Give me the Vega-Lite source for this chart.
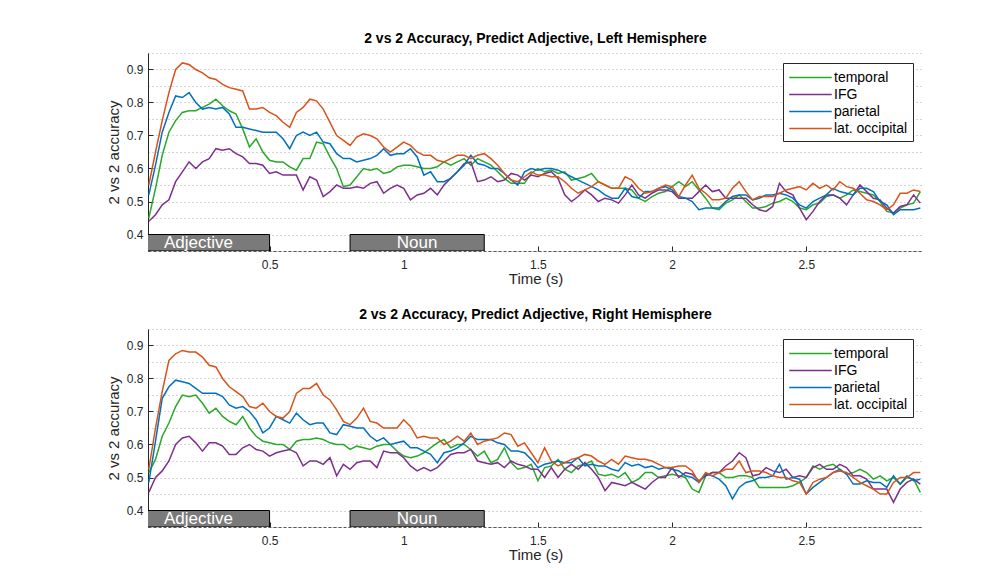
{
"$schema": "https://vega.github.io/schema/vega-lite/v6.json",
"padding": {"left": 106, "top": 32, "right": 5, "bottom": 5},
"spacing": 22,
"config": {
  "font": "Liberation Sans",
  "view": {"stroke": null},
  "title": {"fontSize": 14, "fontWeight": "bold", "color": "#000000", "offset": 7, "anchor": "middle", "font": "Liberation Sans"},
  "axis": {"labelFont": "Liberation Sans", "titleFont": "Liberation Sans", "labelColor": "#262626", "titleColor": "#262626", "titleFontWeight": "normal", "titleFontSize": 15, "labelFontSize": 12, "domainColor": "#262626", "tickColor": "#262626"},
  "legend": {"labelFont": "Liberation Sans", "labelFontSize": 14, "labelColor": "#000000"}
},
"datasets": {
"stim": [
  {"w": "Adjective", "start": 0, "end": 0.5, "mid": 0.235},
  {"w": "Noun", "start": 0.8, "end": 1.3, "mid": 1.05}
],
"L": [
{"t":0.05,"temporal":0.45,"IFG":0.44,"parietal":0.52,"occipital":0.55},
{"t":0.075,"temporal":0.54,"IFG":0.46,"parietal":0.61,"occipital":0.65},
{"t":0.1,"temporal":0.64,"IFG":0.49,"parietal":0.71,"occipital":0.745},
{"t":0.125,"temporal":0.71,"IFG":0.505,"parietal":0.77,"occipital":0.83},
{"t":0.15,"temporal":0.745,"IFG":0.56,"parietal":0.82,"occipital":0.90},
{"t":0.175,"temporal":0.77,"IFG":0.59,"parietal":0.815,"occipital":0.92},
{"t":0.2,"temporal":0.775,"IFG":0.62,"parietal":0.83,"occipital":0.915},
{"t":0.225,"temporal":0.775,"IFG":0.60,"parietal":0.80,"occipital":0.90},
{"t":0.25,"temporal":0.785,"IFG":0.62,"parietal":0.78,"occipital":0.89},
{"t":0.275,"temporal":0.795,"IFG":0.63,"parietal":0.785,"occipital":0.875},
{"t":0.3,"temporal":0.81,"IFG":0.66,"parietal":0.78,"occipital":0.87},
{"t":0.325,"temporal":0.79,"IFG":0.655,"parietal":0.785,"occipital":0.855},
{"t":0.35,"temporal":0.775,"IFG":0.66,"parietal":0.765,"occipital":0.845},
{"t":0.375,"temporal":0.765,"IFG":0.645,"parietal":0.725,"occipital":0.84},
{"t":0.4,"temporal":0.72,"IFG":0.635,"parietal":0.725,"occipital":0.835},
{"t":0.425,"temporal":0.665,"IFG":0.615,"parietal":0.72,"occipital":0.78},
{"t":0.45,"temporal":0.69,"IFG":0.615,"parietal":0.715,"occipital":0.78},
{"t":0.475,"temporal":0.65,"IFG":0.61,"parietal":0.71,"occipital":0.785},
{"t":0.5,"temporal":0.625,"IFG":0.585,"parietal":0.71,"occipital":0.77},
{"t":0.525,"temporal":0.62,"IFG":0.59,"parietal":0.71,"occipital":0.76},
{"t":0.55,"temporal":0.62,"IFG":0.58,"parietal":0.69,"occipital":0.74},
{"t":0.575,"temporal":0.605,"IFG":0.58,"parietal":0.66,"occipital":0.725},
{"t":0.6,"temporal":0.595,"IFG":0.58,"parietal":0.70,"occipital":0.77},
{"t":0.625,"temporal":0.63,"IFG":0.535,"parietal":0.71,"occipital":0.785},
{"t":0.65,"temporal":0.63,"IFG":0.575,"parietal":0.70,"occipital":0.81},
{"t":0.675,"temporal":0.68,"IFG":0.565,"parietal":0.71,"occipital":0.805},
{"t":0.7,"temporal":0.675,"IFG":0.515,"parietal":0.68,"occipital":0.78},
{"t":0.725,"temporal":0.635,"IFG":0.53,"parietal":0.675,"occipital":0.74},
{"t":0.75,"temporal":0.60,"IFG":0.55,"parietal":0.645,"occipital":0.70},
{"t":0.775,"temporal":0.545,"IFG":0.54,"parietal":0.63,"occipital":0.685},
{"t":0.8,"temporal":0.55,"IFG":0.54,"parietal":0.63,"occipital":0.67},
{"t":0.825,"temporal":0.575,"IFG":0.545,"parietal":0.62,"occipital":0.695},
{"t":0.85,"temporal":0.60,"IFG":0.54,"parietal":0.625,"occipital":0.705},
{"t":0.875,"temporal":0.595,"IFG":0.555,"parietal":0.63,"occipital":0.70},
{"t":0.9,"temporal":0.60,"IFG":0.56,"parietal":0.64,"occipital":0.69},
{"t":0.925,"temporal":0.585,"IFG":0.525,"parietal":0.66,"occipital":0.665},
{"t":0.95,"temporal":0.59,"IFG":0.54,"parietal":0.64,"occipital":0.65},
{"t":0.975,"temporal":0.605,"IFG":0.55,"parietal":0.645,"occipital":0.665},
{"t":1.0,"temporal":0.61,"IFG":0.54,"parietal":0.645,"occipital":0.68},
{"t":1.025,"temporal":0.61,"IFG":0.505,"parietal":0.66,"occipital":0.67},
{"t":1.05,"temporal":0.605,"IFG":0.52,"parietal":0.635,"occipital":0.65},
{"t":1.075,"temporal":0.60,"IFG":0.525,"parietal":0.58,"occipital":0.64},
{"t":1.1,"temporal":0.60,"IFG":0.54,"parietal":0.59,"occipital":0.64},
{"t":1.125,"temporal":0.605,"IFG":0.52,"parietal":0.56,"occipital":0.625},
{"t":1.15,"temporal":0.62,"IFG":0.55,"parietal":0.56,"occipital":0.62},
{"t":1.175,"temporal":0.61,"IFG":0.57,"parietal":0.57,"occipital":0.63},
{"t":1.2,"temporal":0.62,"IFG":0.59,"parietal":0.59,"occipital":0.64},
{"t":1.225,"temporal":0.63,"IFG":0.615,"parietal":0.61,"occipital":0.64},
{"t":1.25,"temporal":0.61,"IFG":0.62,"parietal":0.64,"occipital":0.63},
{"t":1.275,"temporal":0.63,"IFG":0.56,"parietal":0.615,"occipital":0.64},
{"t":1.3,"temporal":0.62,"IFG":0.565,"parietal":0.61,"occipital":0.645},
{"t":1.325,"temporal":0.61,"IFG":0.575,"parietal":0.60,"occipital":0.63},
{"t":1.35,"temporal":0.59,"IFG":0.56,"parietal":0.60,"occipital":0.61},
{"t":1.375,"temporal":0.57,"IFG":0.565,"parietal":0.585,"occipital":0.585},
{"t":1.4,"temporal":0.555,"IFG":0.585,"parietal":0.565,"occipital":0.565},
{"t":1.425,"temporal":0.555,"IFG":0.58,"parietal":0.55,"occipital":0.56},
{"t":1.45,"temporal":0.555,"IFG":0.565,"parietal":0.59,"occipital":0.575},
{"t":1.475,"temporal":0.585,"IFG":0.58,"parietal":0.60,"occipital":0.59},
{"t":1.5,"temporal":0.60,"IFG":0.575,"parietal":0.595,"occipital":0.58},
{"t":1.525,"temporal":0.59,"IFG":0.585,"parietal":0.60,"occipital":0.58},
{"t":1.55,"temporal":0.595,"IFG":0.59,"parietal":0.60,"occipital":0.575},
{"t":1.575,"temporal":0.585,"IFG":0.57,"parietal":0.595,"occipital":0.575},
{"t":1.6,"temporal":0.59,"IFG":0.52,"parietal":0.585,"occipital":0.56},
{"t":1.625,"temporal":0.565,"IFG":0.50,"parietal":0.575,"occipital":0.54},
{"t":1.65,"temporal":0.57,"IFG":0.515,"parietal":0.565,"occipital":0.525},
{"t":1.675,"temporal":0.575,"IFG":0.535,"parietal":0.555,"occipital":0.535},
{"t":1.7,"temporal":0.585,"IFG":0.52,"parietal":0.545,"occipital":0.545},
{"t":1.725,"temporal":0.56,"IFG":0.50,"parietal":0.535,"occipital":0.56},
{"t":1.75,"temporal":0.55,"IFG":0.51,"parietal":0.52,"occipital":0.55},
{"t":1.775,"temporal":0.54,"IFG":0.505,"parietal":0.51,"occipital":0.54},
{"t":1.8,"temporal":0.54,"IFG":0.495,"parietal":0.51,"occipital":0.54},
{"t":1.825,"temporal":0.54,"IFG":0.52,"parietal":0.54,"occipital":0.575},
{"t":1.85,"temporal":0.535,"IFG":0.55,"parietal":0.515,"occipital":0.565},
{"t":1.875,"temporal":0.51,"IFG":0.52,"parietal":0.51,"occipital":0.54},
{"t":1.9,"temporal":0.50,"IFG":0.51,"parietal":0.53,"occipital":0.525},
{"t":1.925,"temporal":0.515,"IFG":0.525,"parietal":0.53,"occipital":0.53},
{"t":1.95,"temporal":0.525,"IFG":0.535,"parietal":0.54,"occipital":0.54},
{"t":1.975,"temporal":0.53,"IFG":0.535,"parietal":0.545,"occipital":0.55},
{"t":2.0,"temporal":0.545,"IFG":0.53,"parietal":0.535,"occipital":0.545},
{"t":2.025,"temporal":0.56,"IFG":0.51,"parietal":0.515,"occipital":0.515},
{"t":2.05,"temporal":0.545,"IFG":0.51,"parietal":0.51,"occipital":0.55},
{"t":2.075,"temporal":0.56,"IFG":0.51,"parietal":0.50,"occipital":0.58},
{"t":2.1,"temporal":0.535,"IFG":0.53,"parietal":0.475,"occipital":0.54},
{"t":2.125,"temporal":0.51,"IFG":0.55,"parietal":0.48,"occipital":0.525},
{"t":2.15,"temporal":0.48,"IFG":0.53,"parietal":0.48,"occipital":0.505},
{"t":2.175,"temporal":0.475,"IFG":0.535,"parietal":0.48,"occipital":0.505},
{"t":2.2,"temporal":0.495,"IFG":0.51,"parietal":0.50,"occipital":0.51},
{"t":2.225,"temporal":0.505,"IFG":0.51,"parietal":0.515,"occipital":0.54},
{"t":2.25,"temporal":0.52,"IFG":0.51,"parietal":0.52,"occipital":0.56},
{"t":2.275,"temporal":0.50,"IFG":0.51,"parietal":0.52,"occipital":0.53},
{"t":2.3,"temporal":0.48,"IFG":0.49,"parietal":0.505,"occipital":0.505},
{"t":2.325,"temporal":0.48,"IFG":0.475,"parietal":0.51,"occipital":0.515},
{"t":2.35,"temporal":0.485,"IFG":0.47,"parietal":0.52,"occipital":0.515},
{"t":2.375,"temporal":0.495,"IFG":0.485,"parietal":0.52,"occipital":0.515},
{"t":2.4,"temporal":0.50,"IFG":0.555,"parietal":0.525,"occipital":0.525},
{"t":2.425,"temporal":0.51,"IFG":0.53,"parietal":0.52,"occipital":0.535},
{"t":2.45,"temporal":0.50,"IFG":0.52,"parietal":0.51,"occipital":0.54},
{"t":2.475,"temporal":0.48,"IFG":0.48,"parietal":0.49,"occipital":0.545},
{"t":2.5,"temporal":0.475,"IFG":0.445,"parietal":0.48,"occipital":0.535},
{"t":2.525,"temporal":0.49,"IFG":0.47,"parietal":0.50,"occipital":0.555},
{"t":2.55,"temporal":0.495,"IFG":0.50,"parietal":0.51,"occipital":0.54},
{"t":2.575,"temporal":0.515,"IFG":0.52,"parietal":0.52,"occipital":0.55},
{"t":2.6,"temporal":0.52,"IFG":0.52,"parietal":0.54,"occipital":0.535},
{"t":2.625,"temporal":0.51,"IFG":0.51,"parietal":0.53,"occipital":0.56},
{"t":2.65,"temporal":0.52,"IFG":0.49,"parietal":0.525,"occipital":0.545},
{"t":2.675,"temporal":0.535,"IFG":0.52,"parietal":0.52,"occipital":0.54},
{"t":2.7,"temporal":0.53,"IFG":0.55,"parietal":0.54,"occipital":0.525},
{"t":2.725,"temporal":0.525,"IFG":0.53,"parietal":0.54,"occipital":0.505},
{"t":2.75,"temporal":0.52,"IFG":0.51,"parietal":0.53,"occipital":0.50},
{"t":2.775,"temporal":0.50,"IFG":0.505,"parietal":0.50,"occipital":0.49},
{"t":2.8,"temporal":0.47,"IFG":0.48,"parietal":0.49,"occipital":0.475},
{"t":2.825,"temporal":0.465,"IFG":0.465,"parietal":0.46,"occipital":0.49},
{"t":2.85,"temporal":0.48,"IFG":0.485,"parietal":0.475,"occipital":0.525},
{"t":2.875,"temporal":0.49,"IFG":0.49,"parietal":0.475,"occipital":0.525},
{"t":2.9,"temporal":0.495,"IFG":0.52,"parietal":0.475,"occipital":0.535},
{"t":2.925,"temporal":0.53,"IFG":0.495,"parietal":0.48,"occipital":0.53}
],
"R": [
{"t":0.05,"temporal":0.515,"IFG":0.455,"parietal":0.485,"occipital":0.525},
{"t":0.075,"temporal":0.555,"IFG":0.50,"parietal":0.61,"occipital":0.65},
{"t":0.1,"temporal":0.625,"IFG":0.52,"parietal":0.74,"occipital":0.76},
{"t":0.125,"temporal":0.665,"IFG":0.55,"parietal":0.775,"occipital":0.855},
{"t":0.15,"temporal":0.715,"IFG":0.60,"parietal":0.795,"occipital":0.875},
{"t":0.175,"temporal":0.75,"IFG":0.62,"parietal":0.79,"occipital":0.885},
{"t":0.2,"temporal":0.745,"IFG":0.625,"parietal":0.785,"occipital":0.88},
{"t":0.225,"temporal":0.75,"IFG":0.605,"parietal":0.77,"occipital":0.88},
{"t":0.25,"temporal":0.725,"IFG":0.58,"parietal":0.755,"occipital":0.865},
{"t":0.275,"temporal":0.695,"IFG":0.605,"parietal":0.755,"occipital":0.84},
{"t":0.3,"temporal":0.71,"IFG":0.605,"parietal":0.755,"occipital":0.835},
{"t":0.325,"temporal":0.685,"IFG":0.595,"parietal":0.745,"occipital":0.80},
{"t":0.35,"temporal":0.67,"IFG":0.57,"parietal":0.72,"occipital":0.775},
{"t":0.375,"temporal":0.66,"IFG":0.57,"parietal":0.71,"occipital":0.76},
{"t":0.4,"temporal":0.685,"IFG":0.59,"parietal":0.715,"occipital":0.745},
{"t":0.425,"temporal":0.65,"IFG":0.60,"parietal":0.70,"occipital":0.715},
{"t":0.45,"temporal":0.625,"IFG":0.585,"parietal":0.675,"occipital":0.71},
{"t":0.475,"temporal":0.61,"IFG":0.58,"parietal":0.635,"occipital":0.725},
{"t":0.5,"temporal":0.605,"IFG":0.565,"parietal":0.65,"occipital":0.70},
{"t":0.525,"temporal":0.60,"IFG":0.575,"parietal":0.685,"occipital":0.685},
{"t":0.55,"temporal":0.60,"IFG":0.58,"parietal":0.675,"occipital":0.68},
{"t":0.575,"temporal":0.585,"IFG":0.585,"parietal":0.665,"occipital":0.70},
{"t":0.6,"temporal":0.61,"IFG":0.575,"parietal":0.695,"occipital":0.755},
{"t":0.625,"temporal":0.615,"IFG":0.535,"parietal":0.675,"occipital":0.77},
{"t":0.65,"temporal":0.615,"IFG":0.55,"parietal":0.66,"occipital":0.77},
{"t":0.675,"temporal":0.62,"IFG":0.55,"parietal":0.665,"occipital":0.785},
{"t":0.7,"temporal":0.615,"IFG":0.54,"parietal":0.665,"occipital":0.75},
{"t":0.725,"temporal":0.605,"IFG":0.56,"parietal":0.635,"occipital":0.735},
{"t":0.75,"temporal":0.60,"IFG":0.505,"parietal":0.63,"occipital":0.705},
{"t":0.775,"temporal":0.60,"IFG":0.54,"parietal":0.66,"occipital":0.67},
{"t":0.8,"temporal":0.585,"IFG":0.525,"parietal":0.655,"occipital":0.66},
{"t":0.825,"temporal":0.595,"IFG":0.545,"parietal":0.65,"occipital":0.68},
{"t":0.85,"temporal":0.59,"IFG":0.55,"parietal":0.65,"occipital":0.71},
{"t":0.875,"temporal":0.585,"IFG":0.55,"parietal":0.625,"occipital":0.67},
{"t":0.9,"temporal":0.595,"IFG":0.53,"parietal":0.61,"occipital":0.665},
{"t":0.925,"temporal":0.60,"IFG":0.58,"parietal":0.62,"occipital":0.65},
{"t":0.95,"temporal":0.60,"IFG":0.575,"parietal":0.60,"occipital":0.65},
{"t":0.975,"temporal":0.58,"IFG":0.575,"parietal":0.605,"occipital":0.65},
{"t":1.0,"temporal":0.565,"IFG":0.56,"parietal":0.61,"occipital":0.675},
{"t":1.025,"temporal":0.56,"IFG":0.535,"parietal":0.59,"occipital":0.655},
{"t":1.05,"temporal":0.565,"IFG":0.52,"parietal":0.59,"occipital":0.62},
{"t":1.075,"temporal":0.575,"IFG":0.53,"parietal":0.58,"occipital":0.625},
{"t":1.1,"temporal":0.59,"IFG":0.52,"parietal":0.57,"occipital":0.62},
{"t":1.125,"temporal":0.605,"IFG":0.53,"parietal":0.545,"occipital":0.62},
{"t":1.15,"temporal":0.615,"IFG":0.55,"parietal":0.575,"occipital":0.60},
{"t":1.175,"temporal":0.59,"IFG":0.57,"parietal":0.58,"occipital":0.61},
{"t":1.2,"temporal":0.60,"IFG":0.575,"parietal":0.59,"occipital":0.625},
{"t":1.225,"temporal":0.60,"IFG":0.575,"parietal":0.605,"occipital":0.61},
{"t":1.25,"temporal":0.585,"IFG":0.585,"parietal":0.625,"occipital":0.635},
{"t":1.275,"temporal":0.565,"IFG":0.55,"parietal":0.615,"occipital":0.60},
{"t":1.3,"temporal":0.58,"IFG":0.545,"parietal":0.615,"occipital":0.61},
{"t":1.325,"temporal":0.545,"IFG":0.54,"parietal":0.615,"occipital":0.615},
{"t":1.35,"temporal":0.555,"IFG":0.545,"parietal":0.605,"occipital":0.62},
{"t":1.375,"temporal":0.59,"IFG":0.53,"parietal":0.60,"occipital":0.635},
{"t":1.4,"temporal":0.545,"IFG":0.55,"parietal":0.58,"occipital":0.63},
{"t":1.425,"temporal":0.525,"IFG":0.54,"parietal":0.58,"occipital":0.595},
{"t":1.45,"temporal":0.53,"IFG":0.535,"parietal":0.575,"occipital":0.605},
{"t":1.475,"temporal":0.54,"IFG":0.525,"parietal":0.555,"occipital":0.575},
{"t":1.5,"temporal":0.49,"IFG":0.525,"parietal":0.53,"occipital":0.545},
{"t":1.525,"temporal":0.53,"IFG":0.50,"parietal":0.54,"occipital":0.59},
{"t":1.55,"temporal":0.535,"IFG":0.53,"parietal":0.545,"occipital":0.55},
{"t":1.575,"temporal":0.555,"IFG":0.50,"parietal":0.55,"occipital":0.535},
{"t":1.6,"temporal":0.525,"IFG":0.525,"parietal":0.545,"occipital":0.545},
{"t":1.625,"temporal":0.515,"IFG":0.54,"parietal":0.545,"occipital":0.555},
{"t":1.65,"temporal":0.535,"IFG":0.525,"parietal":0.56,"occipital":0.56},
{"t":1.675,"temporal":0.54,"IFG":0.545,"parietal":0.535,"occipital":0.57},
{"t":1.7,"temporal":0.55,"IFG":0.525,"parietal":0.54,"occipital":0.565},
{"t":1.725,"temporal":0.51,"IFG":0.50,"parietal":0.535,"occipital":0.55},
{"t":1.75,"temporal":0.505,"IFG":0.46,"parietal":0.535,"occipital":0.54},
{"t":1.775,"temporal":0.51,"IFG":0.485,"parietal":0.525,"occipital":0.555},
{"t":1.8,"temporal":0.50,"IFG":0.48,"parietal":0.52,"occipital":0.54},
{"t":1.825,"temporal":0.515,"IFG":0.475,"parietal":0.545,"occipital":0.565},
{"t":1.85,"temporal":0.485,"IFG":0.485,"parietal":0.535,"occipital":0.56},
{"t":1.875,"temporal":0.495,"IFG":0.475,"parietal":0.54,"occipital":0.555},
{"t":1.9,"temporal":0.515,"IFG":0.465,"parietal":0.53,"occipital":0.555},
{"t":1.925,"temporal":0.515,"IFG":0.485,"parietal":0.535,"occipital":0.55},
{"t":1.95,"temporal":0.50,"IFG":0.50,"parietal":0.525,"occipital":0.54},
{"t":1.975,"temporal":0.505,"IFG":0.50,"parietal":0.53,"occipital":0.53},
{"t":2.0,"temporal":0.51,"IFG":0.53,"parietal":0.525,"occipital":0.53},
{"t":2.025,"temporal":0.505,"IFG":0.50,"parietal":0.52,"occipital":0.535},
{"t":2.05,"temporal":0.50,"IFG":0.515,"parietal":0.505,"occipital":0.535},
{"t":2.075,"temporal":0.465,"IFG":0.51,"parietal":0.50,"occipital":0.52},
{"t":2.1,"temporal":0.455,"IFG":0.49,"parietal":0.485,"occipital":0.485},
{"t":2.125,"temporal":0.505,"IFG":0.505,"parietal":0.51,"occipital":0.515},
{"t":2.15,"temporal":0.515,"IFG":0.515,"parietal":0.505,"occipital":0.505},
{"t":2.175,"temporal":0.515,"IFG":0.515,"parietal":0.495,"occipital":0.515},
{"t":2.2,"temporal":0.50,"IFG":0.535,"parietal":0.475,"occipital":0.525},
{"t":2.225,"temporal":0.50,"IFG":0.55,"parietal":0.435,"occipital":0.525},
{"t":2.25,"temporal":0.505,"IFG":0.575,"parietal":0.47,"occipital":0.55},
{"t":2.275,"temporal":0.505,"IFG":0.56,"parietal":0.485,"occipital":0.515},
{"t":2.3,"temporal":0.50,"IFG":0.505,"parietal":0.49,"occipital":0.52},
{"t":2.325,"temporal":0.47,"IFG":0.51,"parietal":0.50,"occipital":0.52},
{"t":2.35,"temporal":0.47,"IFG":0.53,"parietal":0.50,"occipital":0.515},
{"t":2.375,"temporal":0.47,"IFG":0.52,"parietal":0.505,"occipital":0.505},
{"t":2.4,"temporal":0.47,"IFG":0.515,"parietal":0.54,"occipital":0.50},
{"t":2.425,"temporal":0.47,"IFG":0.525,"parietal":0.495,"occipital":0.50},
{"t":2.45,"temporal":0.475,"IFG":0.50,"parietal":0.50,"occipital":0.49},
{"t":2.475,"temporal":0.485,"IFG":0.505,"parietal":0.495,"occipital":0.485},
{"t":2.5,"temporal":0.50,"IFG":0.50,"parietal":0.45,"occipital":0.45},
{"t":2.525,"temporal":0.535,"IFG":0.53,"parietal":0.47,"occipital":0.485},
{"t":2.55,"temporal":0.525,"IFG":0.54,"parietal":0.485,"occipital":0.495},
{"t":2.575,"temporal":0.535,"IFG":0.525,"parietal":0.50,"occipital":0.50},
{"t":2.6,"temporal":0.54,"IFG":0.525,"parietal":0.515,"occipital":0.515},
{"t":2.625,"temporal":0.525,"IFG":0.54,"parietal":0.525,"occipital":0.52},
{"t":2.65,"temporal":0.51,"IFG":0.53,"parietal":0.51,"occipital":0.515},
{"t":2.675,"temporal":0.515,"IFG":0.505,"parietal":0.48,"occipital":0.50},
{"t":2.7,"temporal":0.525,"IFG":0.505,"parietal":0.48,"occipital":0.485},
{"t":2.725,"temporal":0.515,"IFG":0.495,"parietal":0.49,"occipital":0.475},
{"t":2.75,"temporal":0.495,"IFG":0.465,"parietal":0.485,"occipital":0.465},
{"t":2.775,"temporal":0.505,"IFG":0.465,"parietal":0.485,"occipital":0.45},
{"t":2.8,"temporal":0.49,"IFG":0.465,"parietal":0.47,"occipital":0.45},
{"t":2.825,"temporal":0.50,"IFG":0.425,"parietal":0.505,"occipital":0.485},
{"t":2.85,"temporal":0.48,"IFG":0.465,"parietal":0.48,"occipital":0.50},
{"t":2.875,"temporal":0.50,"IFG":0.485,"parietal":0.505,"occipital":0.50},
{"t":2.9,"temporal":0.495,"IFG":0.495,"parietal":0.49,"occipital":0.515},
{"t":2.925,"temporal":0.455,"IFG":0.48,"parietal":0.495,"occipital":0.515}
]
},
"vconcat": [
{
  "title": "2 vs 2 Accuracy, Predict Adjective, Left Hemisphere",
  "width": 775, "height": 198,
  "layer": [
    {"data": {"name": "L"}, "transform": [{"fold": ["temporal", "IFG", "parietal", "occipital"], "as": ["region", "acc"]}],
     "mark": {"type": "line", "strokeWidth": 1.5, "clip": true},
     "encoding": {
       "x": {"field": "t", "type": "quantitative", "scale": {"domain": [0.047, 2.935], "nice": false, "zero": false},
             "axis": {"title": "Time (s)", "values": [0.5, 1, 1.5, 2, 2.5], "tickCount": 20, "format": "~g", "grid": false, "tickSize": -5, "labelPadding": 13, "titlePadding": 1, "domainDash": [3, 2], "domainColor": "#555555"}},
       "y": {"field": "acc", "type": "quantitative", "scale": {"domain": [0.35, 0.95], "nice": false, "zero": false},
             "axis": {"title": "2 vs 2 accuracy", "values": [0.35, 0.4, 0.45, 0.5, 0.55, 0.6, 0.65, 0.7, 0.75, 0.8, 0.85, 0.9, 0.95], "tickCount": 30, "format": ".1f", "labelExpr": "(round(datum.value*100) % 10 == 0) ? datum.label : ''", "grid": true, "gridDash": [1, 3], "gridColor": "#aaaaaa", "tickSize": -5, "tickOpacity": {"condition": {"test": "round(datum.value*100) % 10 == 0", "value": 1}, "value": 0}, "labelPadding": 10, "titlePadding": 5}},
       "color": {"field": "region", "type": "nominal", "scale": {"domain": ["temporal", "IFG", "parietal", "occipital"], "range": ["#29a829", "#7e2f8e", "#0072bd", "#d95319"]},
                 "legend": {"title": null, "orient": "top-right", "offset": 10, "fillColor": "#ffffff", "strokeColor": "#262626", "padding": 5, "symbolType": "M-2.5,0L2.5,0", "symbolSize": 289, "symbolStrokeWidth": 1.5, "symbolOffset": 13, "labelOffset": 14, "rowPadding": 0, "labelExpr": "datum.label == 'occipital' ? 'lat. occipital' : datum.label"}}
     }},
    {"data": {"name": "stim"}, "mark": {"type": "rect", "fill": "#7a7a7a", "stroke": "#000000", "strokeWidth": 1, "clip": true},
     "encoding": {"x": {"field": "start", "type": "quantitative"}, "x2": {"field": "end"},
                  "y": {"datum": 0.35, "type": "quantitative"}, "y2": {"datum": 0.4}}},
    {"data": {"name": "stim"}, "mark": {"type": "text", "color": "#ffffff", "fontSize": 17, "font": "Liberation Sans", "baseline": "middle"},
     "encoding": {"x": {"field": "mid", "type": "quantitative"}, "y": {"datum": 0.375, "type": "quantitative"}, "text": {"field": "w"}}}
  ]
},
{
  "title": "2 vs 2 Accuracy, Predict Adjective, Right Hemisphere",
  "width": 775, "height": 198,
  "layer": [
    {"data": {"name": "R"}, "transform": [{"fold": ["temporal", "IFG", "parietal", "occipital"], "as": ["region", "acc"]}],
     "mark": {"type": "line", "strokeWidth": 1.5, "clip": true},
     "encoding": {
       "x": {"field": "t", "type": "quantitative", "scale": {"domain": [0.047, 2.935], "nice": false, "zero": false},
             "axis": {"title": "Time (s)", "values": [0.5, 1, 1.5, 2, 2.5], "tickCount": 20, "format": "~g", "grid": false, "tickSize": -5, "labelPadding": 13, "titlePadding": 1, "domainDash": [3, 2], "domainColor": "#555555"}},
       "y": {"field": "acc", "type": "quantitative", "scale": {"domain": [0.35, 0.95], "nice": false, "zero": false},
             "axis": {"title": "2 vs 2 accuracy", "values": [0.35, 0.4, 0.45, 0.5, 0.55, 0.6, 0.65, 0.7, 0.75, 0.8, 0.85, 0.9, 0.95], "tickCount": 30, "format": ".1f", "labelExpr": "(round(datum.value*100) % 10 == 0) ? datum.label : ''", "grid": true, "gridDash": [1, 3], "gridColor": "#aaaaaa", "tickSize": -5, "tickOpacity": {"condition": {"test": "round(datum.value*100) % 10 == 0", "value": 1}, "value": 0}, "labelPadding": 10, "titlePadding": 5}},
       "color": {"field": "region", "type": "nominal", "scale": {"domain": ["temporal", "IFG", "parietal", "occipital"], "range": ["#29a829", "#7e2f8e", "#0072bd", "#d95319"]},
                 "legend": {"title": null, "orient": "top-right", "offset": 10, "fillColor": "#ffffff", "strokeColor": "#262626", "padding": 5, "symbolType": "M-2.5,0L2.5,0", "symbolSize": 289, "symbolStrokeWidth": 1.5, "symbolOffset": 13, "labelOffset": 14, "rowPadding": 0, "labelExpr": "datum.label == 'occipital' ? 'lat. occipital' : datum.label"}}
     }},
    {"data": {"name": "stim"}, "mark": {"type": "rect", "fill": "#7a7a7a", "stroke": "#000000", "strokeWidth": 1, "clip": true},
     "encoding": {"x": {"field": "start", "type": "quantitative"}, "x2": {"field": "end"},
                  "y": {"datum": 0.35, "type": "quantitative"}, "y2": {"datum": 0.4}}},
    {"data": {"name": "stim"}, "mark": {"type": "text", "color": "#ffffff", "fontSize": 17, "font": "Liberation Sans", "baseline": "middle"},
     "encoding": {"x": {"field": "mid", "type": "quantitative"}, "y": {"datum": 0.375, "type": "quantitative"}, "text": {"field": "w"}}}
  ]
}
],
"resolve": {"scale": {"color": "independent"}, "legend": {"color": "independent"}}
}
